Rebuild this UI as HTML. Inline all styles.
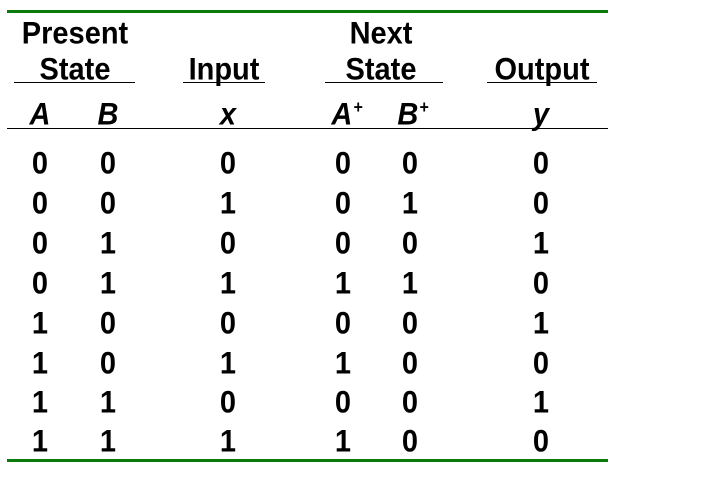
<!DOCTYPE html>
<html><head><style>
body{margin:0;width:728px;height:490px;background:#fff;position:relative;overflow:hidden;font-family:"Liberation Sans",Arial,sans-serif;font-weight:bold;font-size:29px;color:#000}
.t{position:absolute;line-height:30px;transform:translateX(-50%) scaleY(1.08);white-space:nowrap}
.i{font-style:italic}
.l{position:absolute;height:1px;background:#000}
.g{position:absolute;height:3px;background:#0a7a0a;left:7px;width:601px}
sup{font-size:16px;position:relative;top:-6px;vertical-align:top;margin-left:1px}
</style></head><body>
<div class="g" style="top:10px"></div>
<div class="g" style="top:459px"></div>
<div class="t" style="left:75px;top:19px">Present</div>
<div class="t" style="left:75px;top:55px">State</div>
<div class="t" style="left:224px;top:55px">Input</div>
<div class="t" style="left:381px;top:19px">Next</div>
<div class="t" style="left:381px;top:55px">State</div>
<div class="t" style="left:542px;top:55px">Output</div>
<div class="l" style="top:82px;left:14px;width:121px"></div>
<div class="l" style="top:82px;left:183px;width:82px"></div>
<div class="l" style="top:82px;left:325px;width:118px"></div>
<div class="l" style="top:82px;left:487px;width:110px"></div>
<div class="t i" style="left:40px;top:100px">A</div>
<div class="t i" style="left:108px;top:100px">B</div>
<div class="t i" style="left:228px;top:100px">x</div>
<div class="t i" style="left:347px;top:100px">A<sup>+</sup></div>
<div class="t i" style="left:413px;top:100px">B<sup>+</sup></div>
<div class="t i" style="left:541px;top:100px">y</div>
<div class="l" style="top:128px;left:7px;width:601px"></div>
<div id="rows"></div>
<script>
var d=["000000","001010","010001","011110","100001","101100","110001","111100"];
var xs=[40,108,228,343,410,541];var ys=[163,203,243,283,323,363,402,441];
var h="";for(var r=0;r<8;r++)for(var c=0;c<6;c++)h+='<div class="t" style="left:'+xs[c]+'px;top:'+(ys[r]-14)+'px">'+d[r][c]+'</div>';
document.getElementById("rows").innerHTML=h;
</script>
</body></html>
